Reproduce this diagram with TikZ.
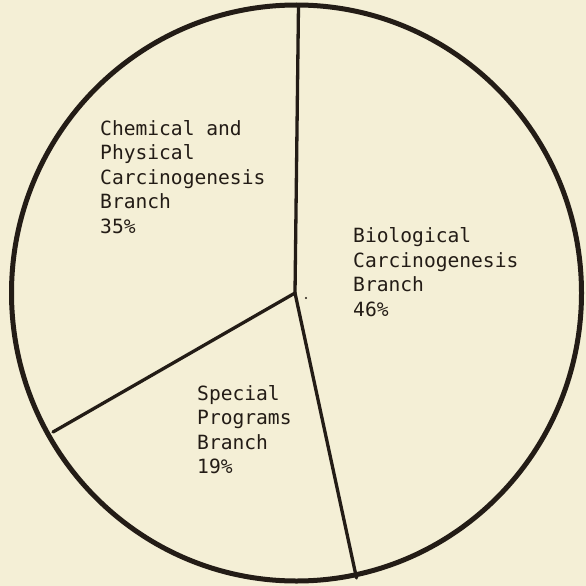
\documentclass[tikz,border=0pt]{standalone}
\usepackage{fontspec}
\newfontfamily\labelmono{DejaVu Sans Mono}
\definecolor{paper}{HTML}{F4EFD6}
\definecolor{ink}{HTML}{231C16}
\begin{document}
\begin{tikzpicture}[x=1pt,y=-1pt,
  rim/.style={draw=ink,line width=5pt},
  spoke/.style={draw=ink,line width=3.3pt,line cap=round},
  lbl/.style={inner sep=0pt,anchor=base west,align=left,text=ink,
    font=\labelmono\fontsize{19.6}{24.5}\selectfont}]
\fill[paper] (0,0) rectangle (586,586);
\useasboundingbox (0,0) rectangle (586,586);
\coordinate (c) at (295,293);
\coordinate (top) at (298.5,5);
\coordinate (bot) at (356.5,578);
\coordinate (left) at (53,432);
\draw[rim] (296.5,293) ellipse [x radius=285,y radius=288];
\draw[spoke] (c) -- (top);
\draw[spoke] (c) -- (bot);
\draw[spoke] (c) -- (left);
\fill[ink] (306,298) circle (1.2);
\node[lbl] (chem) at (100,233) {Chemical and\\Physical\\Carcinogenesis\\Branch\\35\%};
\node[lbl] (bio) at (353,316) {Biological\\Carcinogenesis\\Branch\\46\%};
\node[lbl] (spec) at (197,473.5) {Special\\Programs\\Branch\\19\%};
\end{tikzpicture}
\end{document}
